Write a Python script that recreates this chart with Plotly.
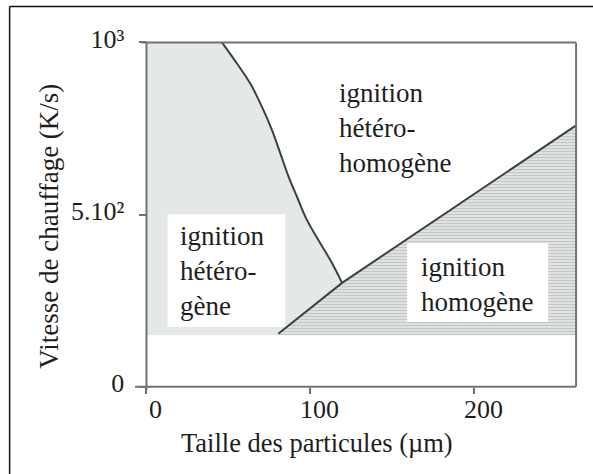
import plotly.graph_objects as go

# ---- data ----
curve_x = [46, 55.3, 63.4, 70.5, 76.6, 81.7, 86.7, 91.8, 97.9, 106.0, 113.2, 119.3]
curve_y = [1000, 938, 880, 812, 745, 677, 610, 552, 484, 417, 359, 302]
line_x = [80.4, 119.3, 262]
line_y = [154, 302, 759]
region_base = 150
x_max = 262
y_max = 1000
x_ticks = [0, 100, 200]
x_ticklabels = ["0", "100", "200"]
y_ticks = [0, 500, 1000]
y_ticklabels = ["0", "5.10²", "10³"]

FONT = "Liberation Serif, Times New Roman, Times, serif"
TXT = "#1e1e1e"
FRAME = "#6f7472"
DARK = "#3a4240"

W_FIG, H_FIG = 593, 474
L, T = 134.5, 38.6
PW, PH = 446.4, 352.6
R = W_FIG - L - PW
B = H_FIG - T - PH
XR = [-7, 265]
YR = [-12, 1010]

def px2paper_x(px):
    return (px - L) / PW

def px2paper_y(py):
    return (T + PH - py) / PH

fig = go.Figure()

# heterogeneous region (light gray)
het_x = [0, 0] + curve_x + [line_x[0]]
het_y = [region_base, y_max] + curve_y + [region_base]
fig.add_trace(go.Scatter(x=het_x, y=het_y, fill="toself", fillcolor="#e4e8e7",
                         line=dict(width=0), mode="lines", hoverinfo="skip", showlegend=False))

# homogeneous region (hatched)
hom_x = line_x + [x_max, line_x[0]]
hom_y = line_y + [region_base, region_base]
fig.add_trace(go.Scatter(x=hom_x, y=hom_y, fill="toself", mode="lines",
                         line=dict(width=0), hoverinfo="skip", showlegend=False,
                         fillcolor="#e2e5e4",
                         fillpattern=dict(shape="-", size=3, solidity=0.5,
                                          fgcolor="#9ca2a0", bgcolor="#e9ecea")))

# boundary curves
fig.add_trace(go.Scatter(x=curve_x, y=curve_y, mode="lines",
                         line=dict(color=DARK, width=2, shape="spline", smoothing=1.0),
                         hoverinfo="skip", showlegend=False))
fig.add_trace(go.Scatter(x=line_x, y=line_y, mode="lines", line=dict(color=DARK, width=2),
                         hoverinfo="skip", showlegend=False))

shapes = []
# white label boxes
shapes.append(dict(type="rect", xref="x", yref="y", x0=12.8, x1=84.7, y0=174, y1=501,
                   fillcolor="white", line=dict(width=0), layer="above"))
shapes.append(dict(type="rect", xref="x", yref="y", x0=159, x1=245, y0=188, y1=417,
                   fillcolor="white", line=dict(width=0), layer="above"))
# frame of the diagram
shapes.append(dict(type="line", xref="x", yref="y", x0=-7, x1=x_max, y0=0, y1=0, line=dict(color=FRAME, width=2)))
shapes.append(dict(type="line", xref="x", yref="y", x0=0, x1=0, y0=-9, y1=y_max, line=dict(color=FRAME, width=2)))
shapes.append(dict(type="line", xref="x", yref="y", x0=-3, x1=x_max, y0=y_max, y1=y_max, line=dict(color=FRAME, width=2)))
shapes.append(dict(type="line", xref="x", yref="y", x0=x_max, x1=x_max, y0=0, y1=y_max, line=dict(color=FRAME, width=2)))
# outer picture border (top and left)
shapes.append(dict(type="line", xref="paper", yref="paper", x0=px2paper_x(9), x1=px2paper_x(600),
                   y0=px2paper_y(6), y1=px2paper_y(6), line=dict(color="#111", width=1.5)))
shapes.append(dict(type="line", xref="paper", yref="paper", x0=px2paper_x(9), x1=px2paper_x(9),
                   y0=px2paper_y(6), y1=px2paper_y(480), line=dict(color="#111", width=1.5)))

annotations = []
annotations.append(dict(xref="x", yref="y", x=116, y=751, xanchor="left", yanchor="middle", align="left",
                        text="ignition<br>hétéro-<br>homogène", showarrow=False,
                        font=dict(family=FONT, size=27, color=TXT)))
annotations.append(dict(xref="x", yref="y", x=19.5, y=336, xanchor="left", yanchor="middle", align="left",
                        text="ignition<br>hétéro-<br>gène", showarrow=False,
                        font=dict(family=FONT, size=27, color=TXT)))
annotations.append(dict(xref="x", yref="y", x=166.5, y=296, xanchor="left", yanchor="middle", align="left",
                        text="ignition<br>homogène", showarrow=False,
                        font=dict(family=FONT, size=27, color=TXT)))
# axis titles
annotations.append(dict(xref="paper", yref="paper", x=px2paper_x(317), y=px2paper_y(443),
                        xanchor="center", yanchor="middle", showarrow=False,
                        text="Taille des particules (µm)", font=dict(family=FONT, size=26.5, color=TXT)))
annotations.append(dict(xref="paper", yref="paper", x=px2paper_x(49), y=px2paper_y(226),
                        xanchor="center", yanchor="middle", showarrow=False, textangle=-90,
                        text="Vitesse de chauffage (K/s)", font=dict(family=FONT, size=27, color=TXT)))

fig.update_layout(
    width=W_FIG, height=H_FIG,
    margin=dict(l=L, r=R, t=T, b=B, pad=0),
    paper_bgcolor="white", plot_bgcolor="white",
    font=dict(family=FONT, color=TXT),
    shapes=shapes, annotations=annotations,
    xaxis=dict(range=XR, anchor="free", position=(0 - YR[0]) / (YR[1] - YR[0]),
               showgrid=False, zeroline=False, showline=False,
               tickmode="array", tickvals=x_ticks, ticktext=x_ticklabels,
               ticks="outside", ticklen=6, tickwidth=2, tickcolor=FRAME,
               ticklabelstandoff=-7, ticklabelshift=9,
               tickfont=dict(family=FONT, size=26, color=TXT)),
    yaxis=dict(range=YR, anchor="free", position=(0 - XR[0]) / (XR[1] - XR[0]),
               showgrid=False, zeroline=False, showline=False,
               tickmode="array", tickvals=y_ticks, ticktext=y_ticklabels,
               ticks="outside", ticklen=7, tickwidth=2, tickcolor=FRAME,
               ticklabelstandoff=10, ticklabelshift=-4,
               tickfont=dict(family=FONT, size=26, color=TXT)),
)

# remove the default 8px page margin so the figure fills the window exactly
fig.write_html("out.html", config={"displayModeBar": False},
               post_script="document.body.style.margin='0px';")
